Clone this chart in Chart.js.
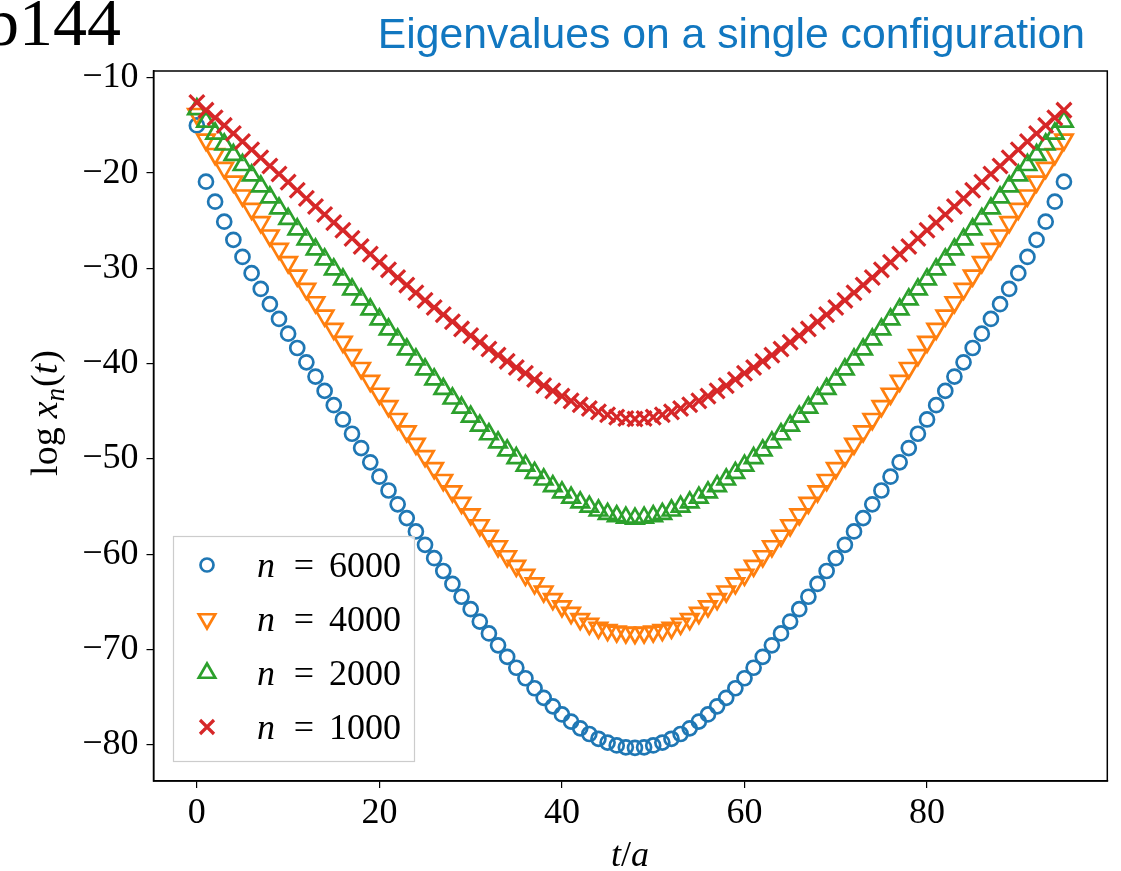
<!DOCTYPE html>
<html>
<head>
<meta charset="utf-8">
<script src="https://cdn.jsdelivr.net/npm/chart.js@4.4.1/dist/chart.umd.min.js"></script>
<style>
  html, body { margin: 0; padding: 0; background: #fff; }
  canvas { display: block; }
</style>
</head>
<body>
<canvas id="chart" width="1121" height="871"></canvas>
<script>
// t/a values (one point per time slice)
const tValues = [
  0, 1, 2, 3, 4, 5, 6, 7, 8, 9, 10, 11, 12, 13, 14, 15, 16, 17, 18, 19,
  20, 21, 22, 23, 24, 25, 26, 27, 28, 29, 30, 31, 32, 33, 34, 35, 36, 37, 38, 39,
  40, 41, 42, 43, 44, 45, 46, 47, 48, 49, 50, 51, 52, 53, 54, 55, 56, 57, 58, 59,
  60, 61, 62, 63, 64, 65, 66, 67, 68, 69, 70, 71, 72, 73, 74, 75, 76, 77, 78, 79,
  80, 81, 82, 83, 84, 85, 86, 87, 88, 89, 90, 91, 92, 93, 94, 95
];

// log x_n(t)
const n6000 = [
  -15.0, -20.9, -23.0, -25.1, -27.0, -28.8, -30.5, -32.15, -33.75, -35.3,
  -36.85, -38.35, -39.85, -41.35, -42.85, -44.35, -45.85, -47.35, -48.85, -50.35,
  -51.85, -53.3, -54.75, -56.2, -57.6, -59.0, -60.4, -61.75, -63.1, -64.45,
  -65.75, -67.05, -68.3, -69.55, -70.75, -71.9, -73.0, -74.05, -75.05, -75.95,
  -76.8, -77.55, -78.25, -78.85, -79.35, -79.75, -80.05, -80.25, -80.3, -80.25,
  -80.05, -79.75, -79.35, -78.85, -78.25, -77.55, -76.8, -75.95, -75.05, -74.05,
  -73.0, -71.9, -70.75, -69.55, -68.3, -67.05, -65.75, -64.45, -63.1, -61.75,
  -60.4, -59.0, -57.6, -56.2, -54.75, -53.3, -51.85, -50.35, -48.85, -47.35,
  -45.85, -44.35, -42.85, -41.35, -39.85, -38.35, -36.85, -35.3, -33.75, -32.15,
  -30.5, -28.8, -27.0, -25.1, -23.0, -20.9
];
const n4000 = [
  -13.8, -16.5, -18.0, -19.45, -20.9, -22.35, -23.75, -25.15, -26.55, -27.95,
  -29.35, -30.75, -32.15, -33.55, -34.95, -36.35, -37.7, -39.1, -40.45, -41.8,
  -43.15, -44.45, -45.8, -47.1, -48.4, -49.7, -50.95, -52.2, -53.4, -54.6,
  -55.8, -56.95, -58.05, -59.15, -60.2, -61.2, -62.15, -63.05, -63.9, -64.7,
  -65.45, -66.15, -66.8, -67.3, -67.7, -67.95, -68.1, -68.2, -68.25, -68.2,
  -68.1, -67.95, -67.7, -67.3, -66.8, -66.15, -65.45, -64.7, -63.9, -63.05,
  -62.15, -61.2, -60.2, -59.15, -58.05, -56.95, -55.8, -54.6, -53.4, -52.2,
  -50.95, -49.7, -48.4, -47.1, -45.8, -44.45, -43.15, -41.8, -40.45, -39.1,
  -37.7, -36.35, -34.95, -33.55, -32.15, -30.75, -29.35, -27.95, -26.55, -25.15,
  -23.75, -22.35, -20.9, -19.45, -18.0, -16.5
];
const n2000 = [
  -13.3, -14.6, -15.85, -17.0, -18.1, -19.15, -20.25, -21.4, -22.55, -23.7,
  -24.8, -25.9, -26.95, -28.0, -29.05, -30.1, -31.15, -32.2, -33.25, -34.3,
  -35.35, -36.4, -37.45, -38.5, -39.55, -40.6, -41.65, -42.65, -43.65, -44.6,
  -45.55, -46.5, -47.4, -48.25, -49.1, -49.9, -50.7, -51.45, -52.15, -52.85,
  -53.5, -54.05, -54.55, -55.0, -55.4, -55.75, -56.0, -56.15, -56.25, -56.15,
  -56.0, -55.75, -55.4, -55.0, -54.55, -54.05, -53.5, -52.85, -52.15, -51.45,
  -50.7, -49.9, -49.1, -48.25, -47.4, -46.5, -45.55, -44.6, -43.65, -42.65,
  -41.65, -40.6, -39.55, -38.5, -37.45, -36.4, -35.35, -34.3, -33.25, -32.2,
  -31.15, -30.1, -29.05, -28.0, -26.95, -25.9, -24.8, -23.7, -22.55, -21.4,
  -20.25, -19.15, -18.1, -17.0, -15.85, -14.6
];
const n1000 = [
  -12.6, -13.4, -14.2, -15.0, -15.85, -16.7, -17.55, -18.4, -19.25, -20.1,
  -20.95, -21.8, -22.65, -23.5, -24.35, -25.2, -26.0, -26.85, -27.7, -28.5,
  -29.35, -30.15, -30.95, -31.75, -32.55, -33.35, -34.1, -34.85, -35.6, -36.35,
  -37.05, -37.75, -38.45, -39.1, -39.75, -40.4, -41.0, -41.65, -42.3, -42.85,
  -43.4, -43.9, -44.3, -44.7, -45.05, -45.35, -45.6, -45.75, -45.8, -45.75,
  -45.6, -45.35, -45.05, -44.7, -44.3, -43.9, -43.4, -42.85, -42.3, -41.65,
  -41.0, -40.4, -39.75, -39.1, -38.45, -37.75, -37.05, -36.35, -35.6, -34.85,
  -34.1, -33.35, -32.55, -31.75, -30.95, -30.15, -29.35, -28.5, -27.7, -26.85,
  -26.0, -25.2, -24.35, -23.5, -22.65, -21.8, -20.95, -20.1, -19.25, -18.4,
  -17.55, -16.7, -15.85, -15.0, -14.2, -13.4
];

const seriesLabels = ['6000', '4000', '2000', '1000'];
const xTicks = [0, 20, 40, 60, 80];
const yTicks = [-80, -70, -60, -50, -40, -30, -20, -10];

const BLUE = '#1f77b4', ORANGE = '#ff7f0e', GREEN = '#2ca02c', RED = '#d62728';
const SERIF = '"Liberation Serif", "DejaVu Serif", serif';
const FS = 36;

const toPoints = ys => tValues.map((t, i) => ({ x: t, y: ys[i] }));
const fmt = v => (v < 0 ? '\u2212' + Math.abs(v) : String(v));

// markers for the hand drawn legend, same shapes as the chart points
function marker(ctx, kind, x, y, color) {
  ctx.save();
  ctx.strokeStyle = color;
  ctx.lineWidth = kind === 'x' ? 3.2 : 2.7;
  ctx.beginPath();
  if (kind === 'o') {
    ctx.arc(x, y, 6.5, 0, Math.PI * 2);
  } else if (kind === 'v' || kind === '^') {
    const r = 9.5, s = kind === 'v' ? -1 : 1;
    ctx.moveTo(x, y - s * r);
    ctx.lineTo(x + r * 0.866, y + s * r / 2);
    ctx.lineTo(x - r * 0.866, y + s * r / 2);
    ctx.closePath();
  } else {
    const h = 7;
    ctx.moveTo(x - h, y - h); ctx.lineTo(x + h, y + h);
    ctx.moveTo(x + h, y - h); ctx.lineTo(x - h, y + h);
  }
  ctx.stroke();
  ctx.restore();
}

// draw text pieces with different fonts side by side, centred on cx
function runs(ctx, parts, cx, y) {
  let w = 0;
  parts.forEach(p => { ctx.font = p.font; w += ctx.measureText(p.text).width + (p.gap || 0); });
  let x = cx - w / 2;
  parts.forEach(p => {
    ctx.font = p.font;
    ctx.fillText(p.text, x, y + (p.dy || 0));
    x += ctx.measureText(p.text).width + (p.gap || 0);
  });
}

const decor = {
  id: 'decor',
  afterDraw(chart) {
    const ctx = chart.ctx;
    const a = chart.chartArea;
    ctx.save();

    // full box around the axes
    ctx.strokeStyle = '#000';
    ctx.lineWidth = 1.5;
    ctx.strokeRect(a.left, a.top, a.right - a.left, a.bottom - a.top);

    // legend box (lower left, inside the axes)
    ctx.fillStyle = 'rgba(255,255,255,0.8)';
    ctx.fillRect(173, 536, 242, 226);
    ctx.strokeStyle = '#cccccc';
    ctx.lineWidth = 1.2;
    ctx.strokeRect(173.5, 536.5, 241, 225);
    const kinds = ['o', 'v', '^', 'x'];
    const cols = [BLUE, ORANGE, GREEN, RED];
    const rows = [565, 619, 673, 727];
    ctx.fillStyle = '#000';
    ctx.textBaseline = 'alphabetic';
    seriesLabels.forEach((lab, i) => {
      marker(ctx, kinds[i], 207, rows[i], cols[i]);
      const by = rows[i] + 12;
      ctx.textAlign = 'left';
      ctx.font = 'italic ' + FS + 'px ' + SERIF;
      ctx.fillText('n', 257, by);
      ctx.textAlign = 'center';
      ctx.font = FS + 'px ' + SERIF;
      ctx.fillText('=', 304, by);
      ctx.textAlign = 'left';
      ctx.fillText(lab, 329, by);
    });

    // axis titles
    ctx.textAlign = 'left';
    ctx.fillStyle = '#000';
    const up = FS + 'px ' + SERIF, it = 'italic ' + FS + 'px ' + SERIF;
    runs(ctx, [
      { text: 't', font: it },
      { text: '/', font: up },
      { text: 'a', font: it }
    ], 630, 866);

    const upY = '38px ' + SERIF, itY = 'italic 38px ' + SERIF;
    ctx.save();
    ctx.translate(57, 413);
    ctx.rotate(-Math.PI / 2);
    runs(ctx, [
      { text: 'log', font: upY, gap: 9 },
      { text: 'x', font: itY },
      { text: 'n', font: 'italic 27px ' + SERIF, dy: 7, gap: 1 },
      { text: '(', font: upY },
      { text: 't', font: itY, gap: 1 },
      { text: ')', font: upY }
    ], 0, 0);
    ctx.restore();

    // heading in blue, and the clipped panel label on the left
    const title = 'Eigenvalues on a single configuration';
    ctx.font = '40px "Liberation Sans", Arial, sans-serif';
    const w = ctx.measureText(title).width;
    const size = 40 * 707 / w;
    ctx.font = size.toFixed(1) + 'px "Liberation Sans", Arial, sans-serif';
    ctx.fillStyle = '#1177c0';
    ctx.textAlign = 'right';
    ctx.fillText(title, 1085, 48);

    ctx.fillStyle = '#000';
    ctx.font = '68px ' + SERIF;
    ctx.textAlign = 'right';
    ctx.fillText('b144', 121, 45);

    ctx.restore();
  }
};

const axisCommon = {
  type: 'linear',
  grid: { drawOnChartArea: false, drawTicks: true, tickLength: 7, color: '#000', lineWidth: 1.2 },
  border: { display: true, color: '#000', width: 1.5 },
};

new Chart(document.getElementById('chart'), {
  type: 'scatter',
  data: {
    datasets: [
      { label: 'n = 6000', data: toPoints(n6000), order: 4,
        pointStyle: 'circle', pointRadius: 7, pointBorderWidth: 2.7,
        pointBorderColor: BLUE, pointBackgroundColor: 'rgba(0,0,0,0)' },
      { label: 'n = 4000', data: toPoints(n4000), order: 3,
        pointStyle: 'triangle', pointRotation: 180, pointRadius: 10, pointBorderWidth: 2.7,
        pointBorderColor: ORANGE, pointBackgroundColor: 'rgba(0,0,0,0)' },
      { label: 'n = 2000', data: toPoints(n2000), order: 2,
        pointStyle: 'triangle', pointRadius: 10, pointBorderWidth: 2.7,
        pointBorderColor: GREEN, pointBackgroundColor: 'rgba(0,0,0,0)' },
      { label: 'n = 1000', data: toPoints(n1000), order: 1,
        pointStyle: 'crossRot', pointRadius: 10.5, pointBorderWidth: 3.2,
        pointBorderColor: RED, pointBackgroundColor: 'rgba(0,0,0,0)' }
    ]
  },
  options: {
    responsive: false,
    animation: false,
    events: [],
    clip: false,
    layout: { padding: { left: 0, top: 71, right: 13, bottom: 0 } },
    plugins: {
      legend: { display: false },
      tooltip: { enabled: false },
      title: { display: false }
    },
    scales: {
      x: {
        ...axisCommon,
        min: -4.75, max: 99.75,
        afterBuildTicks: s => { s.ticks = xTicks.map(v => ({ value: v })); },
        afterFit: s => { s.height = 90; },
        ticks: { color: '#000', font: { family: SERIF, size: FS }, padding: 4, maxRotation: 0, callback: fmt }
      },
      y: {
        ...axisCommon,
        min: -83.78, max: -9.29,
        afterBuildTicks: s => { s.ticks = yTicks.map(v => ({ value: v })); },
        afterFit: s => { s.width = 153.5; },
        ticks: { color: '#000', font: { family: SERIF, size: FS }, padding: 8, callback: fmt }
      }
    }
  },
  plugins: [decor]
});
</script>
</body>
</html>
